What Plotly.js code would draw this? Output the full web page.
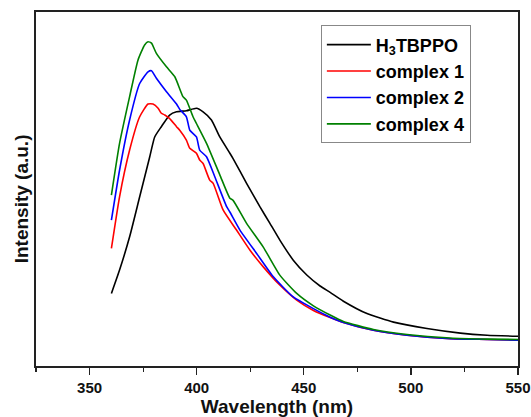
<!DOCTYPE html>
<html>
<head>
<meta charset="utf-8">
<script src="https://cdn.plot.ly/plotly-3.0.1.min.js"></script>
<style>html,body{margin:0;padding:0;background:#fff}#chart{width:531px;height:417px}</style>
</head>
<body>
<div id="chart"></div>
<script>
const seriesNames = ["H<sub>3</sub>TBPPO", "complex 1", "complex 2", "complex 4"];
const seriesColors = ["#000000", "#ff0000", "#0000ff", "#008000"];

const blackX = [360.2,364.0,368.7,373.4,378.1,380.4,383.5,387.4,390.6,395.2,399.9,403.0,406.9,410.8,415.5,417.0,423.3,429.5,434.2,438.9,445.1,451.4,457.6,462.3,468.5,479.5,491.9,507.5,523.1,535.6,550];
const blackY = [20.5,27.1,36.5,47.8,59.1,64.7,67.6,70.9,71.8,72.1,72.8,71.8,69.5,64.7,60.1,58.6,51.6,45.0,40.3,35.5,29.9,25.7,22.6,20.8,18.3,14.8,12.4,10.6,9.3,8.7,8.4];

const redX = [360.2,364.0,368.7,373.4,377.3,379.6,382.0,383.5,385.1,387.4,390.6,392.1,395.2,396.8,399.9,401.4,403.0,406.1,407.7,412.4,418.6,424.9,431.1,438.9,446.7,454.5,462.3,468.5,482.5,498.2,518.4,535.6,550];
const redY = [33.2,47.8,61.0,70.4,74.0,74.0,72.8,71.4,70.9,69.9,67.6,66.6,63.8,61.5,60.1,58.2,57.2,52.5,51.6,44.0,38.4,32.7,28.0,22.8,18.6,15.7,13.7,12.3,10.1,8.7,7.7,7.5,7.3];

const blueX = [360.2,364.0,368.7,373.4,377.3,378.9,381.2,385.9,390.6,392.1,395.2,396.8,399.9,401.4,404.6,408.5,414.0,415.5,420.2,428.0,435.8,445.1,454.5,462.3,468.5,482.5,498.2,518.4,535.6,550];
const blueY = [41.2,55.3,69.5,79.8,83.1,83.4,81.3,77.5,74.0,72.5,70.4,66.6,64.7,61.0,59.1,53.4,45.0,43.5,38.4,31.8,25.2,19.5,16.2,13.8,12.3,10.1,8.7,7.7,7.5,7.3];

const greenX = [360.2,364.0,368.7,372.6,375.7,377.3,378.9,381.2,385.9,389.8,393.6,395.2,398.3,399.9,404.6,410.8,415.5,417.0,423.3,431.1,438.9,446.7,454.5,462.3,468.5,482.5,498.2,518.4,535.6,550];
const greenY = [48.3,62.9,76.1,86.4,90.7,91.6,91.2,88.3,84.5,81.7,76.1,75.1,70.4,68.5,62.9,54.0,47.4,46.8,40.3,33.6,25.6,20.5,17.0,14.4,12.6,10.3,8.9,7.9,7.6,7.5];

const xTickVals = [350, 400, 450, 500, 550];
const xTickText = ["350", "400", "450", "500", "550"];
const xMinorVals = [325, 375, 425, 475, 525];

const xs = [blackX, redX, blueX, greenX];
const ys = [blackY, redY, blueY, greenY];

const traces = xs.map((x, i) => ({
  x: x, y: ys[i], type: "scatter", mode: "lines",
  name: seriesNames[i],
  line: {color: seriesColors[i], width: 1.6, shape: "spline", smoothing: 0.5}
}));

const fam = "Liberation Sans, Arial, sans-serif";
const layout = {
  width: 531, height: 417,
  margin: {l: 36, r: 13, t: 12, b: 51},
  paper_bgcolor: "#fff", plot_bgcolor: "#fff",
  showlegend: true,
  legend: {
    x: 0.591, y: 0.962, xanchor: "left", yanchor: "top",
    bgcolor: "#fff", bordercolor: "#888", borderwidth: 1,
    font: {family: fam, size: 18, color: "#000", weight: "bold"},
    itemwidth: 44, tracegroupgap: 0
  },
  xaxis: {
    range: [325, 550], showgrid: false, zeroline: false,
    showline: true, mirror: true, linecolor: "#222", linewidth: 1.6,
    ticks: "outside", ticklen: 7, tickwidth: 1.4, tickcolor: "#222",
    tickvals: xTickVals, ticktext: xTickText,
    tickfont: {family: fam, size: 15, color: "#111", weight: "bold"},
    minor: {tickvals: xMinorVals, ticks: "outside", ticklen: 4, tickwidth: 1.2, tickcolor: "#222"},
    title: {text: "Wavelength (nm)", font: {family: fam, size: 19, color: "#111", weight: "bold"}, standoff: 6}
  },
  yaxis: {
    range: [0, 100], showgrid: false, zeroline: false,
    showline: true, mirror: true, linecolor: "#222", linewidth: 1.6,
    ticks: "", showticklabels: false
  },
  annotations: [{
    text: "Intensity (a.u.)", textangle: -90,
    xref: "paper", yref: "paper", x: -0.031, y: 0.471,
    xanchor: "center", yanchor: "middle", showarrow: false,
    font: {family: fam, size: 19, color: "#111", weight: "bold"}
  }]
};

Plotly.newPlot("chart", traces, layout, {displayModeBar: false, staticPlot: true});
</script>
</body>
</html>
